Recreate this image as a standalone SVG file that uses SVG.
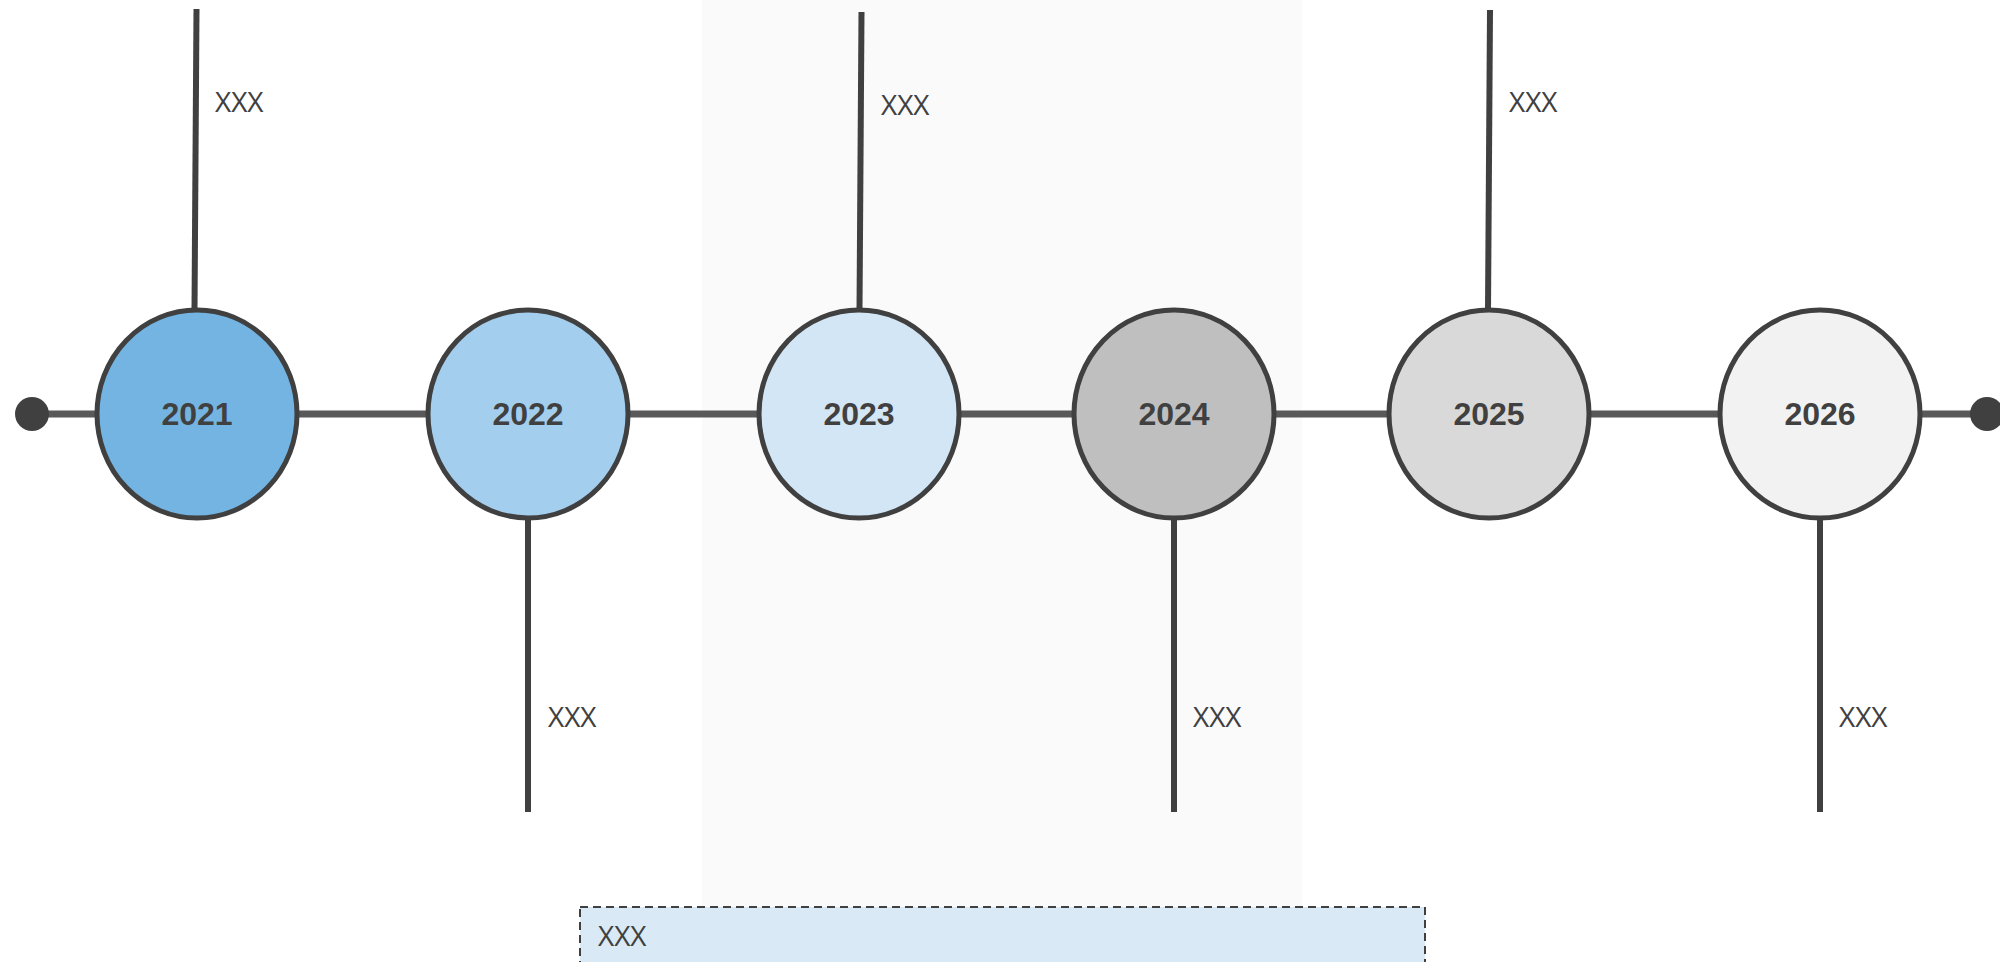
<svg xmlns="http://www.w3.org/2000/svg" width="2000" height="962" viewBox="0 0 2000 962">
<style>
.node ellipse{stroke:#404040;stroke-width:5}
.year{font-family:"Liberation Sans",Arial,sans-serif;font-weight:bold;font-size:32px;fill:#404040;text-anchor:middle}
.lbl{font-family:"Open Sans","Liberation Sans",sans-serif;font-size:28px;fill:#404040}
.stem{stroke:#404040;stroke-width:6;fill:none}
.main{stroke:#595959;stroke-width:7;fill:none}
.dot{fill:#404040}
</style>
<rect x="0" y="0" width="2000" height="962" fill="#ffffff"/>
<rect id="band" x="702" y="0" width="600" height="962" fill="#fafafa"/>
<g id="connectors">
<line class="main" x1="32" y1="414" x2="1987" y2="414"/>
<circle class="dot" cx="32" cy="414" r="17"/>
<circle class="dot" cx="1987" cy="414" r="17"/>
<line class="stem" x1="196.5" y1="9" x2="194.5" y2="310"/>
<line class="stem" x1="861.5" y1="12" x2="859.5" y2="310"/>
<line class="stem" x1="1490" y1="10" x2="1488" y2="310"/>
<line class="stem" x1="528" y1="518" x2="528" y2="812"/>
<line class="stem" x1="1174" y1="518" x2="1174" y2="812"/>
<line class="stem" x1="1820" y1="518" x2="1820" y2="812"/>
</g>
<g id="n2021" class="node"><ellipse cx="197" cy="414" rx="100" ry="104" fill="#73b4e2"/><text class="year" x="197" y="425">2021</text></g>
<g id="n2022" class="node"><ellipse cx="528" cy="414" rx="100" ry="104" fill="#a4ceee"/><text class="year" x="528" y="425">2022</text></g>
<g id="n2023" class="node"><ellipse cx="859" cy="414" rx="100" ry="104" fill="#d2e6f5"/><text class="year" x="859" y="425">2023</text></g>
<g id="n2024" class="node"><ellipse cx="1174" cy="414" rx="100" ry="104" fill="#bfbfbf"/><text class="year" x="1174" y="425">2024</text></g>
<g id="n2025" class="node"><ellipse cx="1489" cy="414" rx="100" ry="104" fill="#d9d9d9"/><text class="year" x="1489" y="425">2025</text></g>
<g id="n2026" class="node"><ellipse cx="1820" cy="414" rx="100" ry="104" fill="#f2f2f2"/><text class="year" x="1820" y="425">2026</text></g>
<g id="labels">
<text class="lbl" x="215" y="112">XXX</text>
<text class="lbl" x="881" y="115">XXX</text>
<text class="lbl" x="1509" y="112">XXX</text>
<text class="lbl" x="548" y="727">XXX</text>
<text class="lbl" x="1193" y="727">XXX</text>
<text class="lbl" x="1839" y="727">XXX</text>
</g>
<g id="note">
<rect x="580" y="907" width="845" height="70" fill="#dae9f6" stroke="#404040" stroke-width="2" stroke-dasharray="8,5"/>
<text class="lbl" x="598" y="946">XXX</text>
</g>
</svg>
